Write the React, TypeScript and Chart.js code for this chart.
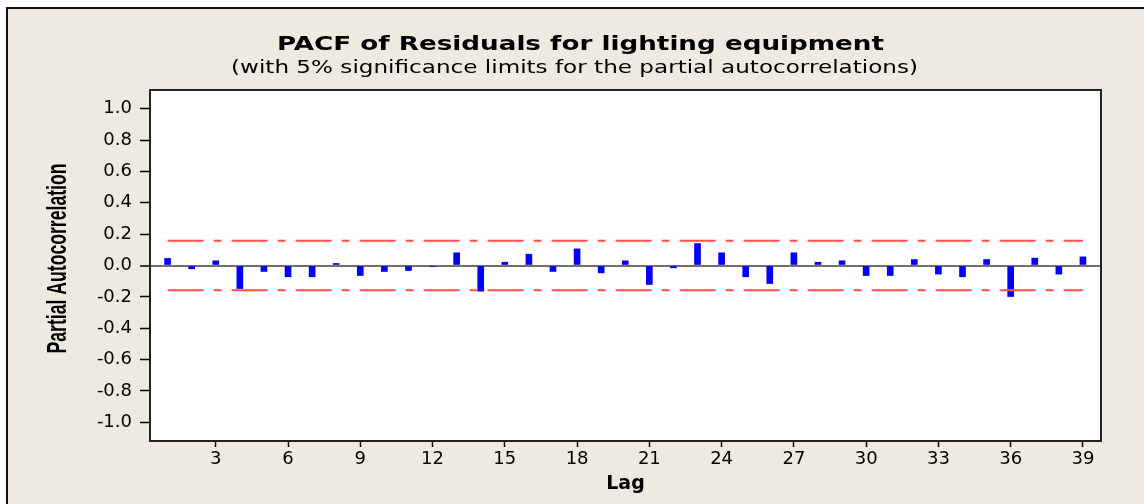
import React, { useEffect, useRef } from "react";
import { Chart, registerables } from "chart.js";

Chart.register(...registerables);

// ---- data ----
const lags: number[] = [
  1, 2, 3, 4, 5, 6, 7, 8, 9, 10, 11, 12, 13, 14, 15, 16, 17, 18, 19, 20,
  21, 22, 23, 24, 25, 26, 27, 28, 29, 30, 31, 32, 33, 34, 35, 36, 37, 38, 39,
];
const pacf: number[] = [
  0.045, -0.021, 0.03, -0.147, -0.038, -0.072, -0.072, 0.013, -0.064, -0.038,
  -0.032, -0.006, 0.081, -0.164, 0.021, 0.072, -0.038, 0.106, -0.047, 0.03,
  -0.121, -0.015, 0.14, 0.081, -0.072, -0.115, 0.081, 0.021, 0.03, -0.064,
  -0.064, 0.038, -0.055, -0.072, 0.038, -0.198, 0.047, -0.055, 0.055,
];
const limitLags: number[] = [1, 39];
const upperLimit: number[] = [0.158, 0.158];
const lowerLimit: number[] = [-0.158, -0.158];
const xTicks: number[] = [3, 6, 9, 12, 15, 18, 21, 24, 27, 30, 33, 36, 39];
const yTicks: number[] = [-1.0, -0.8, -0.6, -0.4, -0.2, 0, 0.2, 0.4, 0.6, 0.8, 1.0];

const titleText = "PACF of Residuals for lighting equipment";
const subtitleText = "(with 5% significance limits for the partial autocorrelations)";
const xTitle = "Lag";
const yTitle = "Partial Autocorrelation";

const BEIGE = "rgb(238,234,224)";
const RED = "rgb(255,80,80)";
const BLUE = "#0000FF";
const FONT = "'DejaVu Sans', Verdana, sans-serif";
const ARIAL = "'Liberation Sans', Arial, sans-serif";

function drawWideText(
  ctx: CanvasRenderingContext2D,
  text: string,
  font: string,
  cx: number,
  baseline: number,
  targetWidth: number
) {
  ctx.save();
  ctx.font = font;
  const w = ctx.measureText(text).width || 1;
  ctx.translate(cx, baseline);
  ctx.scale(targetWidth / w, 1);
  ctx.textAlign = "center";
  ctx.textBaseline = "alphabetic";
  ctx.fillText(text, 0, 0);
  ctx.restore();
}

const framePlugin = {
  id: "frame",
  beforeDraw(chart: any) {
    const { ctx, width, height, chartArea: a } = chart;
    ctx.save();
    ctx.fillStyle = "#ffffff";
    ctx.fillRect(0, 0, width, height);
    ctx.fillStyle = BEIGE;
    ctx.fillRect(7, 8, width - 7, height - 8);
    ctx.strokeStyle = "#111111";
    ctx.lineWidth = 2;
    ctx.beginPath();
    ctx.moveTo(7, height);
    ctx.lineTo(7, 8);
    ctx.lineTo(width, 8);
    ctx.stroke();
    ctx.fillStyle = "#ffffff";
    ctx.fillRect(a.left, a.top, a.right - a.left, a.bottom - a.top);
    ctx.fillStyle = "#000000";
    drawWideText(ctx, titleText, `bold 19px ${FONT}`, 580.5, 50, 607);
    drawWideText(ctx, subtitleText, `17px ${FONT}`, 574.5, 73, 687);
    // rotated y-axis title
    ctx.save();
    ctx.font = `bold 28px ${ARIAL}`;
    const w = ctx.measureText(yTitle).width || 1;
    ctx.translate(55.5, (a.top + a.bottom) / 2 - 7);
    ctx.rotate(-Math.PI / 2);
    ctx.scale(190 / w, 1);
    ctx.textAlign = "center";
    ctx.textBaseline = "alphabetic";
    ctx.fillText(yTitle, 0, 10);
    ctx.restore();
    ctx.restore();
  },
  afterDraw(chart: any) {
    const { ctx, chartArea: a } = chart;
    ctx.save();
    ctx.strokeStyle = "#222222";
    ctx.lineWidth = 2;
    ctx.strokeRect(a.left, a.top, a.right - a.left, a.bottom - a.top);
    ctx.restore();
  },
};

export default function App() {
  const ref = useRef<HTMLCanvasElement | null>(null);
  useEffect(() => {
    if (!ref.current) return;
    const chart = new Chart(ref.current, {
      type: "bar",
      data: {
        datasets: [
          {
            type: "line",
            data: limitLags.map((x, i) => ({ x, y: upperLimit[i] })),
            borderColor: RED,
            borderWidth: 2,
            borderDash: [36, 10, 8, 10],
            pointRadius: 0,
            fill: false,
            order: 0,
          },
          {
            type: "line",
            data: limitLags.map((x, i) => ({ x, y: lowerLimit[i] })),
            borderColor: RED,
            borderWidth: 2,
            borderDash: [36, 10, 8, 10],
            pointRadius: 0,
            fill: false,
            order: 0,
          },
          {
            type: "bar",
            data: lags.map((x, i) => ({ x, y: pacf[i] })),
            backgroundColor: BLUE,
            barThickness: 6,
            order: 1,
          },
        ] as any,
      },
      options: {
        responsive: false,
        animation: false,
        devicePixelRatio: 1,
        layout: { padding: { left: 0, top: 90, right: 43, bottom: 0 } },
        plugins: {
          legend: { display: false },
          tooltip: { enabled: false },
          title: { display: false },
        },
        scales: {
          x: {
            type: "linear",
            min: 0.27,
            max: 39.75,
            offset: false,
            afterBuildTicks: (s: any) => {
              s.ticks = xTicks.map((v) => ({ value: v }));
            },
            afterFit: (s: any) => {
              s.height = 63;
            },
            grid: {
              offset: false,
              drawOnChartArea: false,
              tickLength: 6,
              tickColor: "#000",
              tickWidth: 1.5,
            },
            border: { display: false },
            ticks: {
              font: { family: FONT, size: 18 },
              color: "#000",
              padding: 2,
              maxRotation: 0,
              autoSkip: false,
              callback: (v: any) => String(v),
            },
            title: {
              display: true,
              text: xTitle,
              color: "#000",
              font: { family: FONT, size: 19, weight: "bold" },
              padding: { top: 0, bottom: 9 },
            },
          } as any,
          y: {
            type: "linear",
            min: -1.12,
            max: 1.12,
            afterBuildTicks: (s: any) => {
              s.ticks = yTicks.map((v) => ({ value: v }));
            },
            afterFit: (s: any) => {
              s.width = 150;
            },
            grid: {
              color: (c: any) => (c.tick && c.tick.value === 0 ? "#707070" : "rgba(0,0,0,0)"),
              lineWidth: (c: any) => (c.tick && c.tick.value === 0 ? 2 : 1),
              tickColor: "#000",
              tickLength: 10,
              tickWidth: 1.5,
            },
            border: { display: false },
            ticks: {
              font: { family: FONT, size: 18 },
              color: "#000",
              padding: 8,
              callback: (v: any) => Number(v).toFixed(1),
            },
          } as any,
        },
      },
      plugins: [framePlugin],
    });
    return () => chart.destroy();
  }, []);

  return (
    <div style={{ position: "absolute", left: 0, top: 0, width: 1144, height: 504 }}>
      <canvas ref={ref} width={1144} height={504} style={{ display: "block" }} />
    </div>
  );
}
